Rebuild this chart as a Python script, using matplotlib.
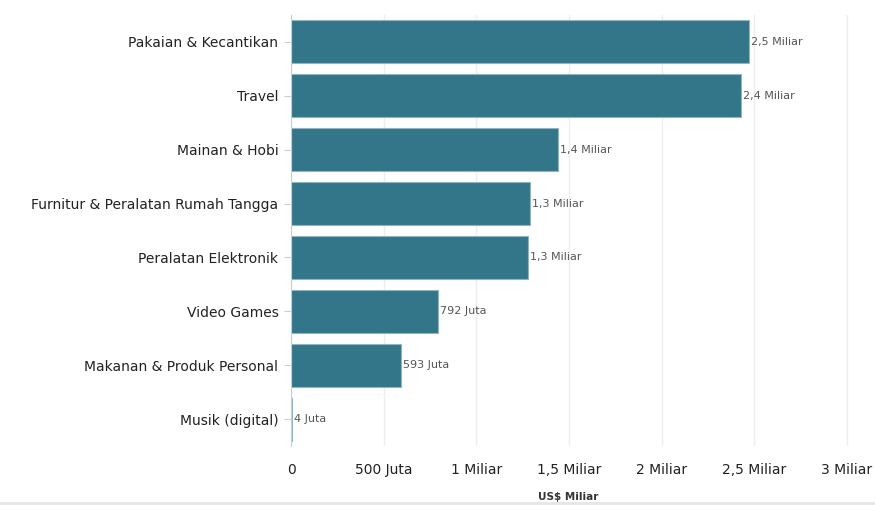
import matplotlib
matplotlib.use("Agg")
import matplotlib.pyplot as plt
from matplotlib.lines import Line2D

categories = ["Pakaian & Kecantikan", "Travel", "Mainan & Hobi",
              "Furnitur & Peralatan Rumah Tangga", "Peralatan Elektronik",
              "Video Games", "Makanan & Produk Personal", "Musik (digital)"]
values = [2.47, 2.43, 1.44, 1.29, 1.28, 0.792, 0.593, 0.004]
value_labels = ["2,5 Miliar", "2,4 Miliar", "1,4 Miliar", "1,3 Miliar",
                "1,3 Miliar", "792 Juta", "593 Juta", "4 Juta"]
xticks = [0, 0.5, 1, 1.5, 2, 2.5, 3]
xtick_labels = ["0", "500 Juta", "1 Miliar", "1,5 Miliar", "2 Miliar", "2,5 Miliar", "3 Miliar"]

plt.rcParams['font.family'] = ['DejaVu Sans']
fig = plt.figure(figsize=(8.75, 5.05), dpi=100)
ax = fig.add_axes([291/875, 1-446/505, (860-291)/875, (446-15)/505])

y = list(range(len(categories)))
ax.barh(y, values, height=0.8, color="#33768A", edgecolor="#8fb4c0", linewidth=0.8, zorder=2)
for yi, v, lab in zip(y, values, value_labels):
    ax.text(v + 0.01, yi, lab, va="center", ha="left", fontsize=8, color="#555555")

ax.set_ylim(7.5, -0.5)
ax.set_xlim(0, 3.07)
ax.set_yticks(y)
ax.set_yticklabels(categories, fontsize=10, color="#222222")
ax.set_xticks(xticks)
ax.set_xticklabels(xtick_labels, fontsize=10, color="#222222")
ax.tick_params(axis="y", length=5, color="#cccccc", pad=4)
ax.tick_params(axis="x", length=0, pad=12)
ax.grid(axis="x", color="#eeeeee", linewidth=1, zorder=0)
for s in ["top", "right", "bottom"]:
    ax.spines[s].set_visible(False)
ax.spines["left"].set_color("#cccccc")
fig.text(568/875, 1-497/505, "US$ Miliar", fontsize=7.5, fontweight="bold", color="#333333",
         ha="center", va="center")

fig.add_artist(Line2D([0.0, 1.0], [1-503/505, 1-503/505], color="#e6e6e6", linewidth=2, transform=fig.transFigure))
fig.savefig("out.png", dpi=100)
